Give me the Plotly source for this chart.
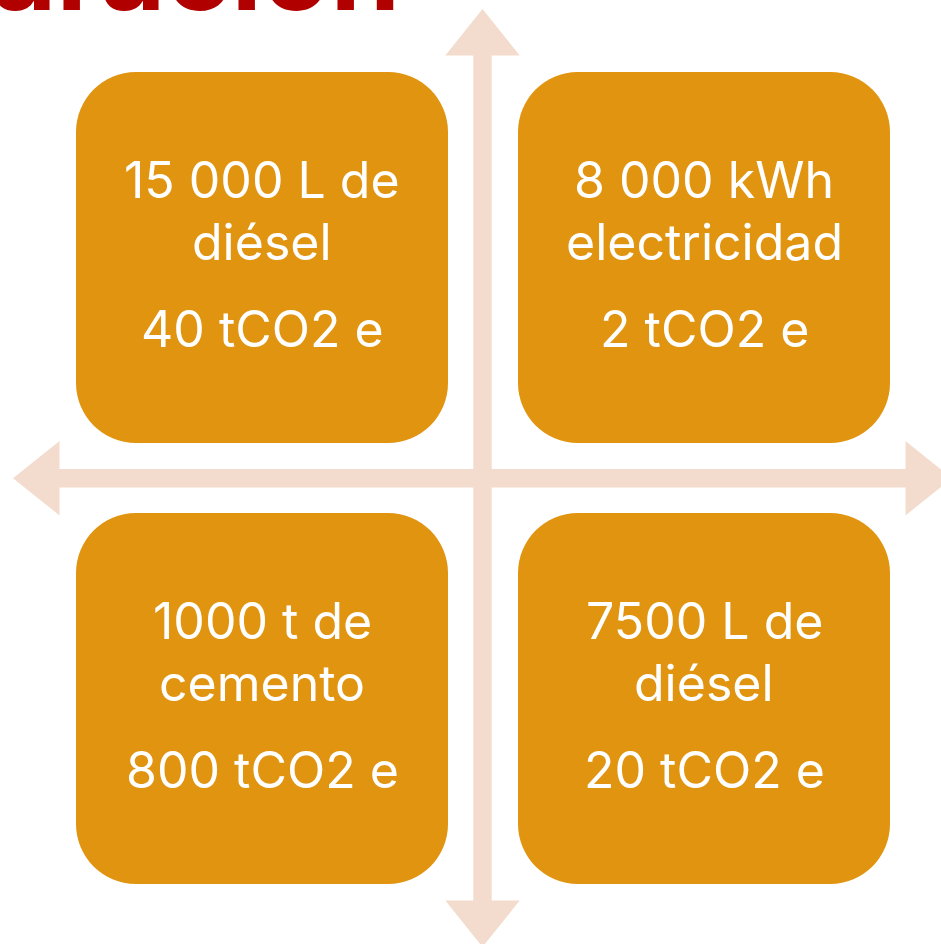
import plotly.graph_objects as go

# ---- content ----
title_text = "Comparación"
line1 = ["15 000 L de", "8 000 kWh", "1000 t de", "7500 L de"]
line2 = ["diésel", "electricidad", "cemento", "diésel"]
line3 = ["40 tCO2 e", "2 tCO2 e", "800 tCO2 e", "20 tCO2 e"]
grid_col = [0, 1, 0, 1]
grid_row = [0, 0, 1, 1]

# ---- styling / layout ----
W, H = 941, 944
BOX_COLOR = "#E0940F"
ARROW_COLOR = "#F3DCCD"
TITLE_COLOR = "#B00000"
FONT = "Inter"

box_x0 = [76, 518]
box_y0 = [72, 513]
box_w, box_h, rad = 372, 371, 60
line_off = [108, 169.5, 257]  # cap-centre offsets from box top

cx, cy = 482.5, 478.2
shaft_hw = 9.2
head_hw = 37.2
head_d = 46.5
v_top, v_bot = 9, 947
h_left, h_right = 13, 952

K = 0.5523


def rounded_rect(x0, y0, w, h, r):
    x1, y1 = x0 + w, y0 + h
    k = r * K
    return (
        f"M {x0+r},{y0} L {x1-r},{y0} "
        f"C {x1-r+k},{y0} {x1},{y0+r-k} {x1},{y0+r} "
        f"L {x1},{y1-r} "
        f"C {x1},{y1-r+k} {x1-r+k},{y1} {x1-r},{y1} "
        f"L {x0+r},{y1} "
        f"C {x0+r-k},{y1} {x0},{y1-r+k} {x0},{y1-r} "
        f"L {x0},{y0+r} "
        f"C {x0},{y0+r-k} {x0+r-k},{y0} {x0+r},{y0} Z"
    )


def poly(pts):
    return "M " + " L ".join(f"{x},{y}" for x, y in pts) + " Z"


shapes = []
v_pts = [
    (cx, v_top), (cx + head_hw, v_top + head_d), (cx + shaft_hw, v_top + head_d),
    (cx + shaft_hw, v_bot - head_d), (cx + head_hw, v_bot - head_d), (cx, v_bot),
    (cx - head_hw, v_bot - head_d), (cx - shaft_hw, v_bot - head_d),
    (cx - shaft_hw, v_top + head_d), (cx - head_hw, v_top + head_d),
]
h_pts = [
    (h_left, cy), (h_left + head_d, cy - head_hw), (h_left + head_d, cy - shaft_hw),
    (h_right - head_d, cy - shaft_hw), (h_right - head_d, cy - head_hw), (h_right, cy),
    (h_right - head_d, cy + head_hw), (h_right - head_d, cy + shaft_hw),
    (h_left + head_d, cy + shaft_hw), (h_left + head_d, cy + head_hw),
]
for pts in (v_pts, h_pts):
    shapes.append(dict(type="path", path=poly(pts), xref="x", yref="y",
                       fillcolor=ARROW_COLOR, line=dict(width=0), layer="below"))

annotations = []
for i in range(len(line1)):
    x0 = box_x0[grid_col[i]]
    y0 = box_y0[grid_row[i]]
    shapes.append(dict(type="path", path=rounded_rect(x0, y0, box_w, box_h, rad),
                       xref="x", yref="y", fillcolor=BOX_COLOR, line=dict(width=0),
                       layer="above"))
    for txt, off in zip((line1[i], line2[i], line3[i]), line_off):
        annotations.append(dict(
            x=x0 + box_w / 2, y=y0 + off, xref="x", yref="y", text=txt,
            showarrow=False, xanchor="center", yanchor="middle",
            font=dict(family=FONT, size=50, color="white"),
        ))

annotations.append(dict(
    x=402, y=39, xref="x", yref="y", text=f"<b>{title_text}</b>",
    showarrow=False, xanchor="right", yanchor="bottom",
    font=dict(family=FONT, size=112, color=TITLE_COLOR),
))

fig = go.Figure()
fig.add_trace(go.Scatter(x=[0, W], y=[0, H], mode="markers",
                         marker=dict(opacity=0), hoverinfo="skip", showlegend=False))
fig.update_layout(
    width=W, height=H, margin=dict(l=0, r=0, t=0, b=0),
    paper_bgcolor="white", plot_bgcolor="white",
    xaxis=dict(range=[0, W], visible=False, fixedrange=True),
    yaxis=dict(range=[H, 0], visible=False, fixedrange=True),
    shapes=shapes, annotations=annotations, showlegend=False,
)
fig.write_html("out.html", config={"displayModeBar": False},
               post_script="document.body.style.margin='0px';document.body.style.overflow='hidden';")
